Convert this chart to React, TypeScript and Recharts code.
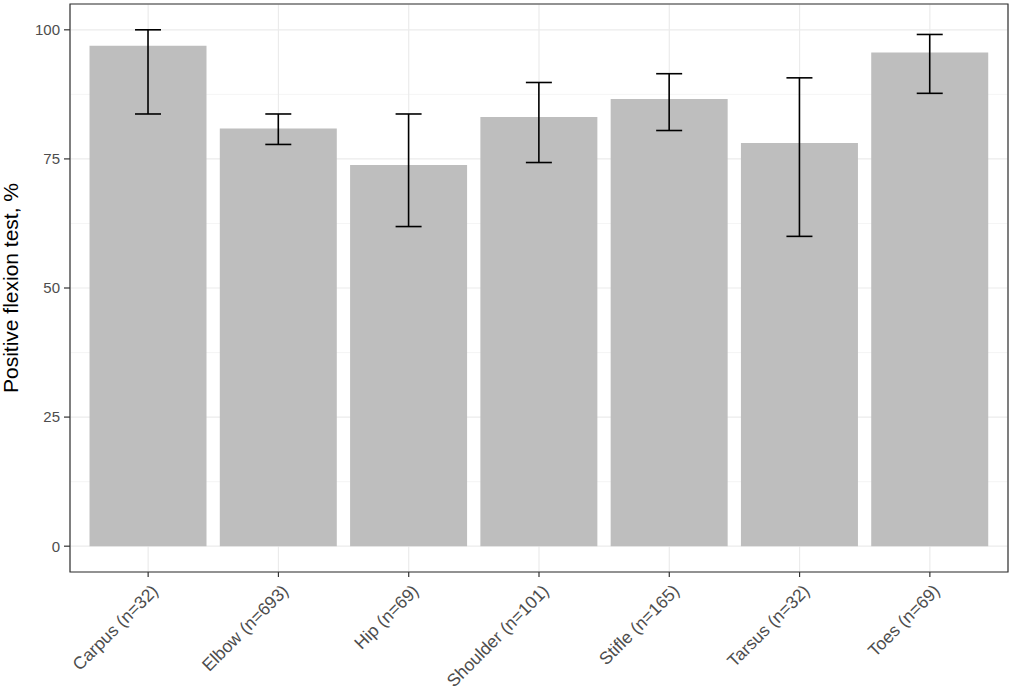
import React from "react"
import {
  Bar,
  BarChart,
  CartesianGrid,
  ErrorBar,
  ReferenceArea,
  XAxis,
  YAxis,
} from "recharts"

const joints = [
  "Carpus (n=32)",
  "Elbow (n=693)",
  "Hip (n=69)",
  "Shoulder (n=101)",
  "Stifle (n=165)",
  "Tarsus (n=32)",
  "Toes (n=69)",
]
const positive = [96.9, 80.9, 73.8, 83.1, 86.6, 78.1, 95.6]
const lower = [83.7, 77.8, 61.9, 74.3, 80.5, 60.0, 87.7]
const upper = [100.0, 83.7, 83.7, 89.8, 91.5, 90.7, 99.1]

const yTicks = [0, 25, 50, 75, 100]
const yMinorTicks = [12.5, 37.5, 62.5, 87.5]
const yDomain = [-5, 105]

const data = joints.map((joint, i) => ({
  joint,
  pct: positive[i],
  ci: [positive[i] - lower[i], upper[i] - positive[i]],
}))

const font = "'Liberation Sans', Arial, sans-serif"

const XTick = (props: any) => {
  const { x, y, payload } = props
  return (
    <g transform={`translate(${x + 11},${y + 13})`}>
      <text
        textAnchor="end"
        transform="rotate(-45)"
        fill="#4d4d4d"
        fontSize={17.5}
        fontFamily={font}
      >
        {payload.value}
      </text>
    </g>
  )
}

const YTitle = (props: any) => {
  const { x, y, height } = props.viewBox
  const cx = x + 18
  const cy = y + height / 2
  return (
    <text
      x={cx}
      y={cy}
      transform={`rotate(-90, ${cx}, ${cy})`}
      textAnchor="middle"
      fontSize={21}
      fontFamily={font}
      fill="#000"
    >
      Positive flexion test, %
    </text>
  )
}

export default function App() {
  return (
    <div style={{ width: 1013, height: 693 }}>
      <style>{`body { margin: 0; }`}</style>
      <BarChart
        width={1013}
        height={693}
        data={data}
        margin={{ top: 4, right: 5, bottom: 0, left: 0 }}
        barCategoryGap="5%"
      >
        <CartesianGrid
          yAxisId="minor"
          vertical={false}
          stroke="#f2f2f2"
          strokeWidth={0.8}
        />
        <CartesianGrid stroke="#ebebeb" strokeWidth={1.2} />
        <XAxis
          dataKey="joint"
          height={121}
          padding={{ left: 13, right: 13 }}
          interval={0}
          tickSize={5}
          tickMargin={2}
          tickLine={{ stroke: "#333", strokeWidth: 1.2 }}
          axisLine={false}
          tick={<XTick />}
        />
        <XAxis xAxisId="frame" dataKey="joint" hide />
        <YAxis
          width={70}
          domain={yDomain}
          ticks={yTicks}
          type="number"
          allowDataOverflow
          tickSize={6}
          tickMargin={4}
          tickLine={{ stroke: "#333", strokeWidth: 1.2 }}
          axisLine={false}
          tick={{ fill: "#4d4d4d", fontSize: 15, fontFamily: font }}
          label={YTitle}
        />
        <YAxis
          yAxisId="minor"
          hide
          domain={yDomain}
          ticks={yMinorTicks}
          type="number"
          allowDataOverflow
        />
        <Bar dataKey="pct" fill="#bebebe" isAnimationActive={false}>
          <ErrorBar
            dataKey="ci"
            width={13}
            stroke="#000"
            strokeWidth={1.6}
            direction="y"
          />
        </Bar>
        <ReferenceArea
          xAxisId="frame"
          y1={yDomain[0]}
          y2={yDomain[1]}
          fill="none"
          stroke="#333"
          strokeWidth={1.2}
          ifOverflow="visible"
        />
      </BarChart>
    </div>
  )
}
